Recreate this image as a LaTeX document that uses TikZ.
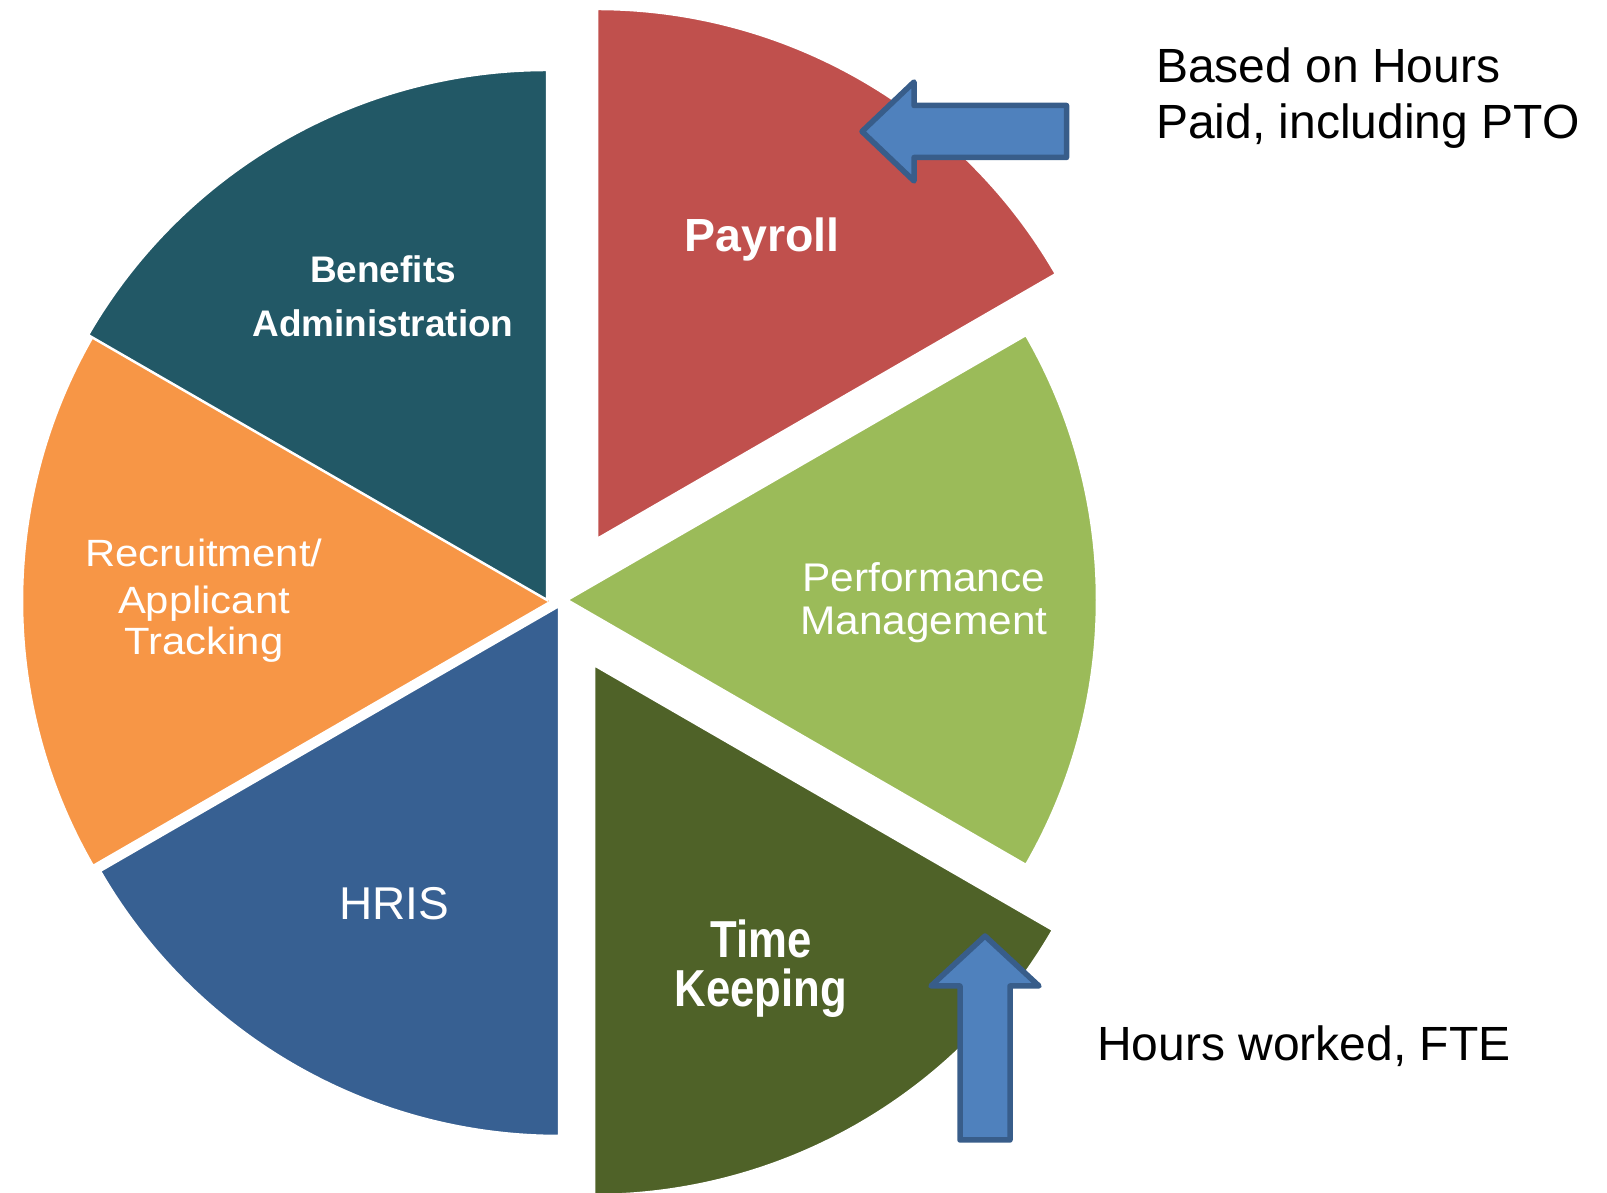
\documentclass[tikz,border=0pt]{standalone}
\usepackage{fontspec}
\setmainfont{Liberation Sans}
\newfontfamily\widesans[FakeStretch=1.10]{Liberation Sans}
\newfontfamily\midsans[FakeStretch=1.06]{Liberation Sans}
\newfontfamily\narrowsans[FakeStretch=0.84]{Liberation Sans}

\definecolor{payred}{HTML}{C0504D}
\definecolor{perfgreen}{HTML}{9BBB59}
\definecolor{timegreen}{HTML}{4F6228}
\definecolor{hrisblue}{HTML}{376092}
\definecolor{recorange}{HTML}{F79646}
\definecolor{benteal}{HTML}{225866}
\definecolor{arrowfill}{HTML}{4F81BD}
\definecolor{arrowline}{HTML}{385D8A}

% #1 colour, #2,#3 apex, #4 start angle, #5 end angle
\newcommand\pieslice[5]{%
  \filldraw[slice, fill=#1] (#2,#3) -- ++(#4:530) arc[start angle=#4, end angle=#5, radius=530] -- cycle;}

\begin{document}
\begin{tikzpicture}[x=1pt, y=1pt,
  slice/.style={draw=white, line width=2.5pt, line join=miter},
  blockarrow/.style={fill=arrowfill, draw=arrowline, line width=5.5pt, line join=round},
  lbl/.style={text=white, inner sep=0pt, anchor=base},
  note/.style={text=black, inner sep=0pt, anchor=base west,
    font=\fontsize{48}{56}\selectfont}]
\useasboundingbox (0,0) rectangle (1607,1193);

% exploded pie, six slices of 60 degrees
\pieslice{payred}{597}{654}{30}{90}
\pieslice{perfgreen}{567}{593}{-30}{30}
\pieslice{timegreen}{594}{528}{-90}{-30}
\pieslice{hrisblue}{559}{587}{210}{270}
\pieslice{recorange}{552}{592}{150}{210}
\pieslice{benteal}{547}{593}{90}{150}

% block arrows
\filldraw[blockarrow] (1066.5,1087.5) -- (914,1087.5) -- (914,1111) -- (862,1061.5)
  -- (914,1012) -- (914,1035.5) -- (1066.5,1035.5) -- cycle;
\filldraw[blockarrow] (960,53) -- (960,207) -- (931,207) -- (985,257)
  -- (1039,207) -- (1010,207) -- (1010,53) -- cycle;

% slice labels
\node[lbl] (payroll) at (762,941) {\fontsize{46.5}{55}\selectfont\bfseries Payroll};
\node[lbl] (benefitsA) at (383,910) {\fontsize{37}{44}\selectfont\bfseries Benefits};
\node[lbl] (benefitsB) at (383,856) {\fontsize{37}{44}\selectfont\bfseries Administration};
\node[lbl] (recA) at (204,626) {\widesans\fontsize{38}{45}\selectfont Recruitment/};
\node[lbl] (recB) at (204,579) {\widesans\fontsize{38}{45}\selectfont Applicant};
\node[lbl] (recC) at (204,538) {\widesans\fontsize{38}{45}\selectfont Tracking};
\node[lbl] (perfA) at (924,601) {\midsans\fontsize{40}{48}\selectfont Performance};
\node[lbl] (perfB) at (924,558) {\midsans\fontsize{40}{48}\selectfont Management};
\node[lbl] (timeA) at (761,235) {\narrowsans\fontsize{52}{60}\selectfont\bfseries Time};
\node[lbl] (timeB) at (761,186) {\narrowsans\fontsize{52}{60}\selectfont\bfseries Keeping};
\node[lbl] (hris) at (394,273) {\fontsize{46}{54}\selectfont HRIS};

% notes beside the arrows
\node[note] (paidA) at (1156,1110) {Based on Hours};
\node[note] (paidB) at (1156,1054) {Paid, including PTO};
\node[note] (worked) at (1097,132) {Hours worked, FTE};
\end{tikzpicture}
\end{document}
